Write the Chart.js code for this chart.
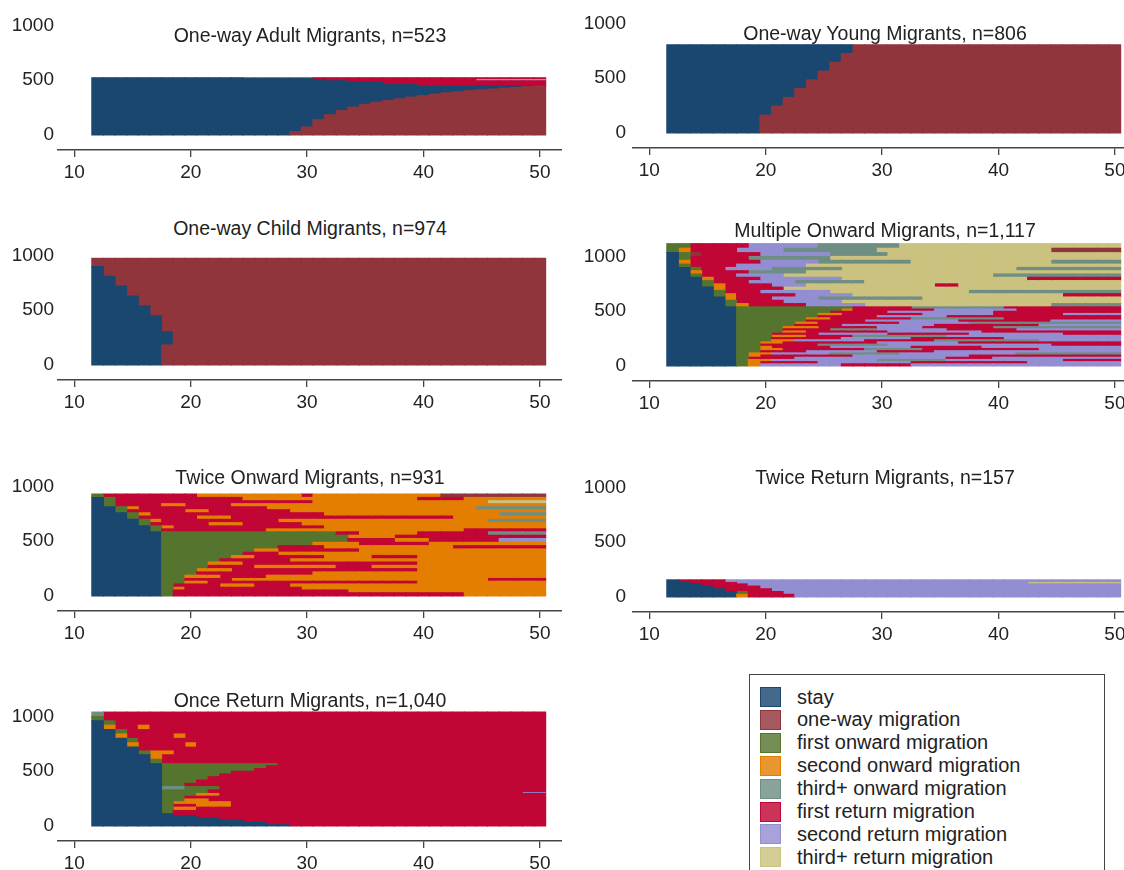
<!DOCTYPE html>
<html>
<head>
<meta charset="utf-8">
<script src="https://cdn.jsdelivr.net/npm/chart.js@4.4.1/dist/chart.umd.min.js"></script>
<style>
  body { margin: 0; width: 1124px; height: 870px; overflow: hidden; background: #fff; position: relative;
         font-family: "Liberation Sans", Arial, sans-serif; }
  canvas { position: absolute; }
  .title { position: absolute; width: 440px; text-align: center; font-size: 19.5px; line-height: 22px; color: #222; white-space: nowrap; }
  #legend { position: absolute; left: 749px; top: 674px; width: 356px; height: 230px; border: 1.5px solid #444; box-sizing: border-box; }
  .key { position: absolute; left: 10px; width: 21px; height: 20px; box-sizing: border-box; border: 1px solid; }
  .lab { position: absolute; left: 47px; font-size: 20px; line-height: 22px; color: #222; white-space: nowrap; }
</style>
</head>
<body>
<div id="legend"></div>
<script>
// states: 0 stay, 1 one-way, 2 first onward, 3 second onward, 4 third+ onward,
//         5 first return, 6 second return, 7 third+ return
const stateLabels = ["stay", "one-way migration", "first onward migration", "second onward migration",
  "third+ onward migration", "first return migration", "second return migration", "third+ return migration"];
const stateColors = ["#1a476f", "#90353b", "#55752f", "#e37e00", "#6e8e84", "#c10534", "#938dd2", "#cac27e"];

const ages = [12, 13, 14, 15, 16, 17, 18, 19, 20, 21, 22, 23, 24, 25, 26, 27, 28, 29, 30, 31,
  32, 33, 34, 35, 36, 37, 38, 39, 40, 41, 42, 43, 44, 45, 46, 47, 48, 49, 50];
const xTicks = [10, 20, 30, 40, 50];
const yTicks = [0, 500, 1000];

const panelTitles = ["One-way Adult Migrants, n=523", "One-way Young Migrants, n=806",
  "One-way Child Migrants, n=974", "Multiple Onward Migrants, n=1,117",
  "Twice Onward Migrants, n=931", "Twice Return Migrants, n=157", "Once Return Migrants, n=1,040"];

// each band: [number of people, [state, age it changes, new state, age, state, ...]]
// bands are listed from the bottom of the plot to the top
const adultBands = [
  [30, [0, 29, 1]], [44, [0, 30, 1]], [66, [0, 31, 1]], [45, [0, 32, 1]], [38, [0, 33, 1]],
  [32, [0, 34, 1]], [25, [0, 35, 1]], [20, [0, 36, 1]], [16, [0, 37, 1]], [14, [0, 38, 1]],
  [16, [0, 39, 1]], [14, [0, 40, 1]], [13, [0, 41, 1]], [12, [0, 42, 1]], [10, [0, 43, 1]],
  [10, [0, 44, 1]], [8, [0, 45, 1]], [7, [0, 46, 1]], [8, [0, 47, 1]], [7, [0, 48, 1]],
  [7, [0, 49, 1]], [6, [0, 50, 1]],
  [12, [0, 40, 5]], [22, [0, 37, 5]], [13, [0, 34, 5]], [12, [0, 32, 5, 45, 6]],
  [8, [0, 31, 5]], [8, [0, 25, 2, 31, 5]]
];

const youngBands = [
  [163, [0, 20, 1]], [82, [0, 21, 1]], [80, [0, 22, 1]], [80, [0, 23, 1]], [80, [0, 24, 1]],
  [80, [0, 25, 1]], [80, [0, 26, 1]], [80, [0, 27, 1]], [81, [0, 28, 1]]
];

const childBands = [
  [183, [0, 18, 1]], [121, [0, 19, 1]], [146, [0, 18, 1]], [90, [0, 17, 1]], [90, [0, 16, 1]],
  [90, [0, 15, 1]], [90, [0, 14, 1]], [90, [0, 13, 1]], [74, [1]]
];

const multiOnwardBands = [
  [20, [0, 18, 2, 19, 3, 20, 6, 27, 5, 33, 6]],
  [20, [0, 18, 2, 19, 3, 20, 5, 25, 6, 33, 5, 43, 6]],
  [20, [0, 18, 2, 19, 3, 21, 6, 30, 4, 36, 6, 46, 5]],
  [20, [0, 18, 2, 19, 5, 23, 6, 36, 5, 40, 6]],
  [20, [0, 18, 2, 19, 3, 20, 5, 28, 6, 38, 5]],
  [20, [0, 18, 2, 19, 3, 21, 6, 26, 4, 32, 6, 42, 4]],
  [20, [0, 18, 2, 20, 5, 24, 6, 30, 5, 35, 6]],
  [20, [0, 18, 2, 20, 3, 22, 5, 29, 4, 34, 5, 44, 6]],
  [20, [0, 18, 2, 20, 3, 21, 5, 26, 6, 33, 5, 39, 6]],
  [20, [0, 18, 2, 20, 5, 25, 4, 31, 6, 45, 5]],
  [20, [0, 18, 2, 20, 3, 22, 5, 30, 6, 37, 5]],
  [20, [0, 18, 2, 21, 3, 23, 6, 29, 5, 35, 4, 44, 6]],
  [20, [0, 18, 2, 21, 5, 27, 6, 33, 5, 41, 6]],
  [20, [0, 18, 2, 21, 3, 24, 5, 28, 4, 36, 6]],
  [20, [0, 18, 2, 21, 5, 25, 6, 31, 5, 38, 6, 46, 5]],
  [20, [0, 18, 2, 22, 3, 24, 5, 31, 6, 39, 5]],
  [20, [0, 18, 2, 22, 5, 26, 4, 30, 6, 36, 5, 42, 6]],
  [20, [0, 18, 2, 22, 3, 25, 5, 30, 6, 34, 5, 40, 4]],
  [20, [0, 18, 2, 23, 5, 27, 6, 35, 5, 44, 6]],
  [20, [0, 18, 2, 23, 3, 25, 5, 32, 6, 38, 4]],
  [20, [0, 18, 2, 24, 5, 29, 6, 37, 5, 45, 6]],
  [20, [0, 18, 2, 24, 3, 26, 5, 33, 4, 41, 5]],
  [20, [0, 18, 2, 25, 5, 30, 6, 36, 5]],
  [20, [0, 18, 2, 25, 3, 27, 5, 34, 6, 40, 5, 46, 6]],
  [20, [0, 18, 2, 26, 5, 31, 6, 40, 5]],
  [20, [0, 18, 2, 27, 3, 28, 5, 35, 6, 42, 5]],
  [20, [0, 18, 2, 28, 5, 33, 4, 41, 5]],
  [30, [0, 17, 2, 18, 3, 19, 5, 24, 6, 29, 7, 45, 4]],
  [30, [0, 17, 2, 18, 5, 22, 6, 27, 7]],
  [30, [0, 17, 3, 18, 5, 21, 6, 25, 4, 34, 7]],
  [30, [0, 16, 2, 17, 3, 18, 5, 23, 6, 28, 7, 46, 5]],
  [30, [0, 16, 2, 17, 5, 20, 6, 26, 7, 38, 4]],
  [30, [0, 16, 3, 17, 5, 22, 7]],
  [30, [0, 15, 2, 16, 3, 17, 5, 21, 6, 24, 7, 35, 5, 37, 7]],
  [30, [0, 15, 2, 16, 5, 19, 6, 23, 4, 29, 7]],
  [30, [0, 15, 3, 16, 5, 20, 6, 27, 7, 43, 5]],
  [30, [0, 14, 2, 15, 5, 18, 6, 22, 7, 40, 4]],
  [30, [0, 14, 3, 15, 5, 19, 4, 24, 7]],
  [30, [0, 14, 2, 15, 5, 17, 6, 21, 4, 27, 7, 42, 4]],
  [30, [0, 13, 2, 14, 5, 18, 6, 24, 7]],
  [35, [0, 13, 3, 14, 5, 20, 6, 25, 4, 33, 7, 45, 4]],
  [35, [0, 13, 2, 14, 5, 19, 4, 26, 7]],
  [35, [0, 13, 2, 14, 1, 15, 5, 20, 6, 26, 4, 31, 7]],
  [40, [2, 13, 3, 14, 5, 18, 6, 22, 4, 30, 7, 45, 1]],
  [42, [2, 14, 5, 19, 6, 25, 4, 32, 7]]
];

const twiceOnwardBands = [
  [30, [0, 18, 2, 19, 5, 44, 3]],
  [25, [0, 18, 2, 19, 5, 34, 3]],
  [25, [0, 18, 2, 19, 3, 20, 5, 30, 3]],
  [30, [0, 18, 2, 19, 5, 23, 3, 26, 5, 29, 3]],
  [25, [0, 18, 2, 20, 3, 22, 5, 40, 3]],
  [25, [0, 18, 2, 20, 5, 24, 3, 46, 5]],
  [30, [0, 18, 2, 20, 3, 23, 5, 27, 3]],
  [30, [0, 18, 2, 21, 5, 31, 3]],
  [30, [0, 18, 2, 21, 3, 24, 5, 40, 3]],
  [30, [0, 18, 2, 22, 5, 26, 3, 33, 5, 36, 3]],
  [30, [0, 18, 2, 22, 3, 25, 5, 40, 3]],
  [30, [0, 18, 2, 23, 5, 29, 3]],
  [30, [0, 18, 2, 24, 3, 26, 5, 32, 3, 36, 5, 40, 3]],
  [30, [0, 18, 2, 25, 5, 28, 3]],
  [30, [0, 18, 2, 26, 3, 28, 5, 35, 3]],
  [30, [0, 18, 2, 28, 5, 32, 3, 43, 5]],
  [30, [0, 18, 2, 31, 3, 35, 5, 41, 3]],
  [35, [0, 18, 2, 34, 5, 38, 3, 41, 5, 47, 6]],
  [30, [0, 18, 2, 34, 3, 38, 5]],
  [31, [0, 18, 2, 33, 5, 35, 3, 40, 5, 46, 4]],
  [27, [0, 17, 2, 18, 5, 27, 3, 44, 5]],
  [27, [0, 17, 2, 18, 3, 19, 5, 32, 3]],
  [30, [0, 16, 2, 17, 5, 22, 3, 25, 5, 30, 3]],
  [30, [0, 16, 2, 17, 3, 18, 5, 28, 3, 46, 4]],
  [30, [0, 15, 2, 16, 5, 21, 3, 24, 5, 43, 3]],
  [30, [0, 15, 2, 16, 3, 17, 5, 32, 3, 47, 4]],
  [28, [0, 14, 2, 15, 5, 20, 3, 22, 5, 29, 3]],
  [27, [0, 14, 2, 15, 3, 16, 5, 27, 3, 45, 4]],
  [28, [0, 13, 2, 14, 5, 18, 3, 20, 5, 24, 3]],
  [27, [0, 13, 2, 14, 5, 31, 3, 46, 7]],
  [30, [0, 13, 2, 14, 5, 25, 3, 40, 5, 44, 3]],
  [31, [2, 13, 5, 21, 3, 30, 5, 31, 3, 42, 1]]
];

const twiceReturnBands = [
  [25, [0, 18, 3, 19, 5, 23, 6]],
  [25, [0, 18, 2, 19, 5, 22, 6]],
  [25, [0, 17, 5, 21, 6]],
  [25, [0, 16, 5, 20, 6]],
  [20, [0, 15, 5, 19, 6]],
  [12, [0, 14, 5, 18, 6, 43, 7]],
  [25, [0, 13, 5, 17, 6]]
];

const onceReturnBands = [
  [12, [0, 29, 5]], [20, [0, 27, 5]], [20, [0, 25, 5]], [20, [0, 23, 5]], [20, [0, 21, 5]],
  [20, [0, 19, 5]], [30, [0, 18, 2, 19, 5]], [30, [0, 18, 2, 19, 3, 21, 5]],
  [25, [0, 18, 2, 19, 5, 21, 3, 24, 5]], [25, [0, 18, 2, 19, 3, 24, 5]],
  [25, [0, 18, 2, 20, 3, 22, 5]], [25, [0, 18, 2, 20, 5]], [25, [0, 18, 2, 21, 3, 23, 5]],
  [8, [0, 18, 2, 22, 5, 49, 6]], [25, [0, 18, 2, 22, 5]], [30, [0, 18, 4, 20, 2, 23, 5]],
  [30, [0, 18, 2, 20, 5]], [30, [0, 18, 2, 21, 5]], [30, [0, 18, 2, 22, 5]],
  [25, [0, 18, 2, 23, 5]], [25, [0, 18, 2, 24, 5]], [25, [0, 18, 2, 26, 5]],
  [25, [0, 18, 2, 27, 5]], [19, [0, 18, 2, 28, 5]],
  [40, [0, 17, 2, 18, 5]], [41, [0, 17, 3, 18, 5]], [35, [0, 16, 2, 17, 3, 19, 5]],
  [35, [0, 16, 5]], [40, [0, 15, 3, 16, 5, 20, 3, 21, 5]], [40, [0, 15, 2, 16, 5]],
  [40, [0, 14, 3, 15, 5, 19, 3, 20, 5]], [40, [0, 14, 2, 15, 5]],
  [40, [0, 13, 3, 14, 5, 16, 3, 17, 5]], [40, [0, 13, 2, 14, 5]],
  [40, [2, 13, 5]], [40, [4, 13, 5]]
];

const panelBands = [adultBands, youngBands, childBands, multiOnwardBands,
  twiceOnwardBands, twiceReturnBands, onceReturnBands];

// where each small plot sits on the page
const panelLayout = [
  { left: 0, top: 9, width: 562, yWidth: 58, pad: 4, titleX: 310, titleBase: 42 },
  { left: 570, top: 7, width: 567, yWidth: 63, pad: 7, titleX: 885, titleBase: 40 },
  { left: 0, top: 239, width: 562, yWidth: 58, pad: 4, titleX: 310, titleBase: 235 },
  { left: 570, top: 240, width: 567, yWidth: 63, pad: 7, titleX: 885, titleBase: 237 },
  { left: 0, top: 470, width: 562, yWidth: 58, pad: 4, titleX: 310, titleBase: 484 },
  { left: 570, top: 471, width: 567, yWidth: 63, pad: 7, titleX: 885, titleBase: 484 },
  { left: 0, top: 700, width: 562, yWidth: 58, pad: 4, titleX: 310, titleBase: 707 }
];

const fontFamily = '"Liberation Sans", Arial, sans-serif';

function stateAt(seq, age) {
  let s = seq[0];
  for (let i = 1; i < seq.length; i += 2) {
    if (age >= seq[i]) s = seq[i + 1];
  }
  return s;
}

// turn the bands into one stack of floating bars per age
function buildDatasets(bands) {
  let columns = ages.map(age => {
    let segs = [];
    let cum = 0;
    bands.forEach(b => {
      let s = stateAt(b[1], age);
      let last = segs[segs.length - 1];
      if (last && last.s === s) {
        last.hi = cum + b[0];
      } else {
        segs.push({ lo: cum, hi: cum + b[0], s: s });
      }
      cum += b[0];
    });
    return segs;
  });
  let maxSegs = Math.max(...columns.map(c => c.length));
  let datasets = [];
  for (let k = 0; k < maxSegs; k++) {
    let data = [];
    let colors = [];
    columns.forEach((segs, i) => {
      if (segs[k]) {
        data.push({ x: ages[i], y: [segs[k].lo, segs[k].hi] });
        colors.push(stateColors[segs[k].s]);
      }
    });
    datasets.push({
      data: data,
      backgroundColor: colors,
      borderWidth: 0,
      grouped: false,
      barPercentage: 1,
      categoryPercentage: 1,
      inflateAmount: 0.5
    });
  }
  return datasets;
}

function noPadding(s) {
  s.paddingTop = 0;
  s.paddingBottom = 0;
  s.paddingLeft = 0;
  s.paddingRight = 0;
}

function makePanel(i) {
  const lay = panelLayout[i];
  const canvas = document.createElement("canvas");
  canvas.width = lay.width;
  canvas.height = 181;
  canvas.style.left = lay.left + "px";
  canvas.style.top = lay.top + "px";
  document.body.appendChild(canvas);

  const title = document.createElement("div");
  title.className = "title";
  title.textContent = panelTitles[i];
  title.style.left = (lay.titleX - 220) + "px";
  title.style.top = (lay.titleBase - 17.8) + "px";
  document.body.appendChild(title);

  new Chart(canvas, {
    type: "bar",
    data: { datasets: buildDatasets(panelBands[i]) },
    options: {
      responsive: false,
      animation: false,
      devicePixelRatio: 1,
      layout: { padding: 0, autoPadding: false },
      plugins: { legend: { display: false }, tooltip: { enabled: false } },
      scales: {
        x: {
          type: "linear",
          min: 8.6,
          max: 51.9,
          offset: false,
          afterBuildTicks: s => { s.ticks = xTicks.map(v => ({ value: v })); },
          afterFit: s => { s.height = 40; noPadding(s); },
          grid: { display: true, offset: false, drawOnChartArea: false, drawTicks: true, tickLength: 7, color: "#444", lineWidth: 1.3 },
          border: { display: true, color: "#444", width: 1.6 },
          ticks: { font: { family: fontFamily, size: 19 }, color: "#222", padding: 4, maxRotation: 0 }
        },
        y: {
          type: "linear",
          min: -137,
          max: 1150,
          afterBuildTicks: s => { s.ticks = yTicks.map(v => ({ value: v })); },
          afterFit: s => { s.width = lay.yWidth; noPadding(s); },
          grid: { display: false, drawTicks: false },
          border: { display: false },
          ticks: { font: { family: fontFamily, size: 19 }, color: "#222", padding: lay.pad,
                   callback: v => String(v) }
        }
      }
    }
  });
}

for (let i = 0; i < panelTitles.length; i++) {
  makePanel(i);
}

// legend box
const legend = document.getElementById("legend");
stateLabels.forEach((label, i) => {
  const key = document.createElement("div");
  key.className = "key";
  key.style.top = (12 + i * 22.9) + "px";
  key.style.background = stateColors[i] + "d0";
  key.style.borderColor = stateColors[i];
  legend.appendChild(key);
  const lab = document.createElement("div");
  lab.className = "lab";
  lab.style.top = (10.5 + i * 22.9) + "px";
  lab.textContent = label;
  legend.appendChild(lab);
});
</script>
</body>
</html>
